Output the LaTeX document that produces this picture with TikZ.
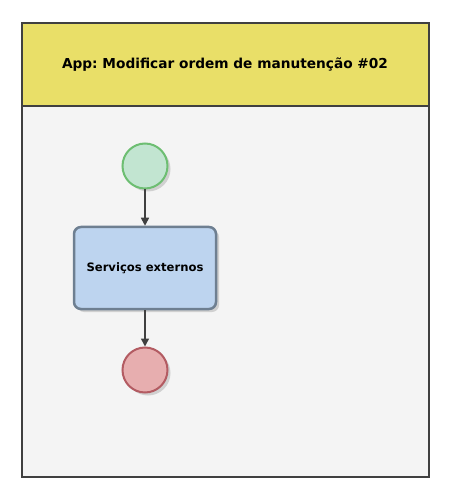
\documentclass[tikz,border=0pt]{standalone}
\usepackage{fontspec}
\setmainfont{DejaVu Sans}
\usetikzlibrary{arrows.meta,shadows,positioning}
\frenchspacing

\definecolor{framegray}{RGB}{64,64,64}
\definecolor{lanegray}{RGB}{244,244,244}
\definecolor{headyellow}{RGB}{233,223,104}
\definecolor{startfill}{RGB}{194,229,209}
\definecolor{startdraw}{RGB}{109,190,114}
\definecolor{taskfill}{RGB}{189,212,239}
\definecolor{taskdraw}{RGB}{110,127,145}
\definecolor{endfill}{RGB}{231,174,175}
\definecolor{enddraw}{RGB}{179,91,98}

\tikzset{every picture/.style={line width=0.75pt}}
\tikzset{
  shade/.style={drop shadow={shadow xshift=3pt,shadow yshift=-3pt,fill=black!22,opacity=0.8}},
  event/.style={circle,minimum size=45pt,inner sep=0pt,line width=2pt,shade},
  startevent/.style={event,fill=startfill,draw=startdraw},
  endevent/.style={event,fill=endfill,draw=enddraw},
  taskbox/.style={rectangle,rounded corners=7pt,minimum width=142pt,minimum height=82pt,
    fill=taskfill,draw=taskdraw,line width=2.5pt,shade,font=\fontsize{11.6}{14}\selectfont\bfseries},
  flow/.style={draw=framegray,line width=1.6pt,-{Triangle[length=8pt,width=8pt]}}
}

\begin{document}
\begin{tikzpicture}[x=1pt,y=1pt,yscale=-1,xscale=1]
\useasboundingbox (0,0) rectangle (462,502);

%Shape: Lane
\draw [fill=lanegray,draw=framegray,line width=2pt] (22,23) rectangle (429,477);
%Shape: Header
\draw [fill=headyellow,draw=framegray,line width=2pt] (22,23) rectangle (429,106);
% Text Node
\node (title) at (225,65) {\fontsize{13.7}{16}\selectfont\bfseries App: Modificar ordem de manutenção \#02};

%Shape: Start
\node [startevent] (start) at (145,166) {};
%Shape: Task
\node [taskbox] (servicos) at (145,268) {Serviços externos};
%Shape: End
\node [endevent] (fim) at (145,370) {};

%Flows
\draw [flow] (start) -- (servicos);
\draw [flow] (servicos) -- (fim);

\end{tikzpicture}
\end{document}
